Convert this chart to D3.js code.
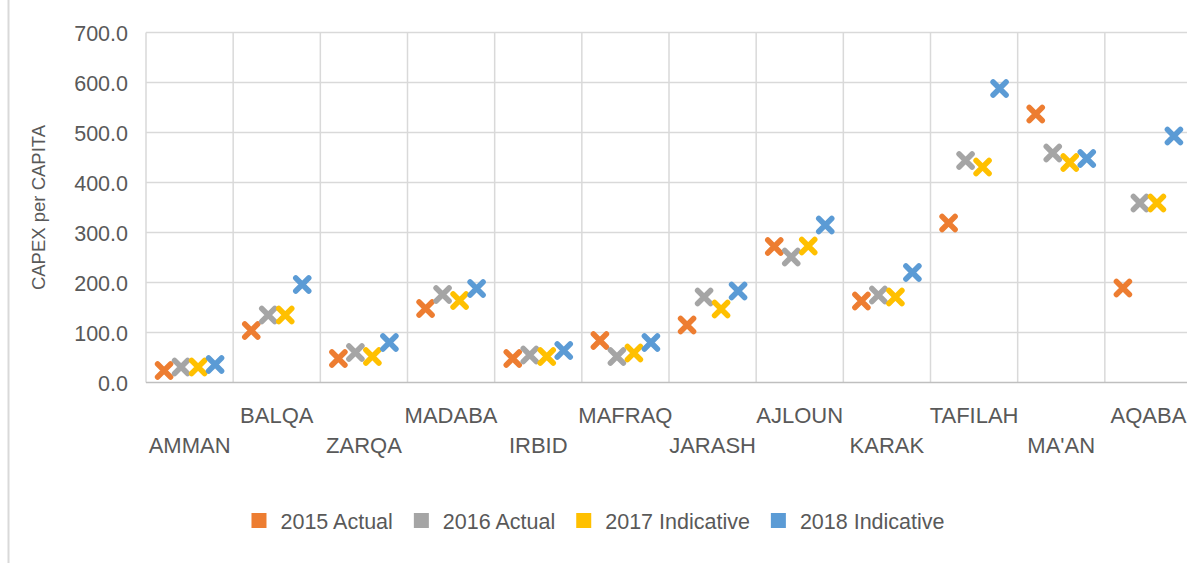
<!DOCTYPE html>
<html>
<head>
<meta charset="utf-8">
<script src="https://cdn.jsdelivr.net/npm/d3@7"></script>
<style>
  html, body { margin: 0; padding: 0; background: #ffffff; }
  svg { display: block; }
  text { font-family: "Liberation Sans", Arial, sans-serif; fill: #595959; }
</style>
</head>
<body>
<svg id="chart" width="1187" height="563"></svg>
<script>
const categories = ["AMMAN","BALQA","ZARQA","MADABA","IRBID","MAFRAQ","JARASH","AJLOUN","KARAK","TAFILAH","MA'AN","AQABA"];
const seriesNames = ["2015 Actual","2016 Actual","2017 Indicative","2018 Indicative"];
const seriesColors = ["#ED7D31","#A5A5A5","#FFC000","#5B9BD5"];
const s2015 = [24, 104, 48, 148, 48, 84, 115, 272, 163, 319, 537, 189];
const s2016 = [31, 135, 60, 176, 55, 52, 171, 251, 175, 444, 459, 359];
const s2017 = [31, 135, 52, 164, 52, 59, 147, 273, 171, 431, 440, 359];
const s2018 = [36, 196, 80, 188, 64, 80, 183, 315, 220, 588, 448, 493];
const yTicks = [0, 100, 200, 300, 400, 500, 600, 700];
const yTitle = "CAPEX per CAPITA";

const seriesValues = [s2015, s2016, s2017, s2018];

const svg = d3.select("#chart");
const plot = {left: 146, right: 1192, top: 32.5, bottom: 382.5};

// outer chart border fragment on the left
svg.append("line").attr("x1", 8.5).attr("x2", 8.5).attr("y1", 0).attr("y2", 563)
  .attr("stroke", "#d9d9d9").attr("stroke-width", 2);

const x = d3.scaleBand().domain(categories).range([plot.left, plot.right]).paddingInner(0).paddingOuter(0);
const y = d3.scaleLinear().domain([0, 700]).range([plot.bottom, plot.top]);
const off = d3.scalePoint().domain(seriesNames).range([-25.5, 25.5]);

// horizontal gridlines
svg.append("g").selectAll("line").data(yTicks.filter(d => d > 0)).join("line")
  .attr("x1", plot.left).attr("x2", plot.right)
  .attr("y1", d => y(d)).attr("y2", d => y(d))
  .attr("stroke", "#d9d9d9").attr("stroke-width", 1.5);

// vertical gridlines (category boundaries)
const bounds = categories.map(c => x(c));
svg.append("g").selectAll("line").data(bounds).join("line")
  .attr("x1", d => d).attr("x2", d => d)
  .attr("y1", plot.top).attr("y2", plot.bottom)
  .attr("stroke", "#d9d9d9").attr("stroke-width", 1.5);

// bottom axis line
svg.append("line").attr("x1", plot.left).attr("x2", plot.right)
  .attr("y1", plot.bottom).attr("y2", plot.bottom)
  .attr("stroke", "#bfbfbf").attr("stroke-width", 1.5);

// y axis tick labels
const yAxis = d3.axisLeft(y).tickValues(yTicks).tickFormat(d3.format(".1f")).tickSize(0).tickPadding(0);
const yg = svg.append("g").attr("transform", "translate(128,0)").call(yAxis);
yg.select(".domain").remove();
yg.selectAll("text").attr("font-size", "21.5px").attr("fill", "#595959")
  .attr("font-family", "Liberation Sans, Arial, sans-serif").attr("dy", "0.36em");

// y title
svg.append("text")
  .attr("transform", `translate(45,${(plot.top + plot.bottom) / 2}) rotate(-90)`)
  .attr("text-anchor", "middle").attr("font-size", "18.5px").text(yTitle);

// category labels (staggered in two rows)
svg.append("g").selectAll("text").data(categories).join("text")
  .attr("x", d => x(d) + x.bandwidth() / 2)
  .attr("y", (d, i) => i % 2 === 0 ? 453 : 423)
  .attr("text-anchor", "middle").attr("font-size", "22px").text(d => d);

// markers
const xPath = "M-6.5,-6.5L6.5,6.5M-6.5,6.5L6.5,-6.5";
seriesNames.forEach((name, si) => {
  svg.append("g").selectAll("path").data(seriesValues[si]).join("path")
    .attr("transform", (d, i) => `translate(${x(categories[i]) + x.bandwidth() / 2 + off(name)},${y(d)})`)
    .attr("d", xPath)
    .attr("fill", "none")
    .attr("stroke", seriesColors[si])
    .attr("stroke-width", 5.5)
    .attr("stroke-linecap", "round");
});

// legend
const legend = svg.append("g");
let lx = 0;
seriesNames.forEach((name, si) => {
  const g = legend.append("g").attr("transform", `translate(${lx},0)`);
  g.append("rect").attr("x", 0).attr("y", -8).attr("width", 15).attr("height", 15).attr("fill", seriesColors[si]);
  const t = g.append("text").attr("x", 29).attr("y", 0).attr("dy", "0.36em").attr("font-size", "21.5px").text(name);
  const w = t.node().getComputedTextLength();
  lx += 29 + w + 21;
});
const totalW = lx - 21;
legend.attr("transform", `translate(${598 - totalW / 2},521)`);
</script>
</body>
</html>
